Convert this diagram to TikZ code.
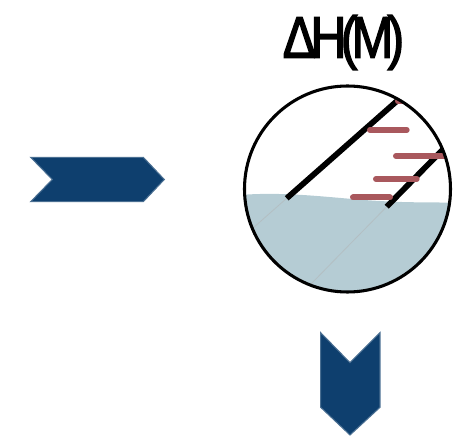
\documentclass[tikz,border=0pt]{standalone}
\usepackage{fontspec}
\setmainfont{Liberation Sans}
\usetikzlibrary{positioning}
\definecolor{chevblue}{HTML}{0E3F6E}
\definecolor{wetblue}{HTML}{B5CCD4}
\definecolor{tickred}{HTML}{A9585D}
\tikzset{
  chevron/.style={fill=chevblue, draw=chevblue!75!white, line width=0.8pt, line join=miter},
  wall/.style={line width=4.3pt, black},
  tick/.style={line width=4.5pt, tickred, line cap=round},
}
% heavier glyph strokes for the heading
\newcommand{\heavytext}[1]{\special{pdf:literal direct 2 Tr 1.1 w}#1\special{pdf:literal direct 0 Tr 0 w}}

\begin{document}
\begin{tikzpicture}[x=0.75pt,y=-0.75pt]
			\useasboundingbox (0,0) rectangle (462,438);
			% heading
			\node[anchor=base, inner sep=0pt, xscale=0.85] (dh) at (343.5,57.7)
				{\fontsize{44}{44}\selectfont\heavytext{Δ\kern-5ptH\kern-5pt(\kern-5ptM\kern-5pt)}};
			% arrows
			\fill[chevron] (30.7,157.3) -- (143.3,157.3) -- (164.3,179.5) -- (143.3,201.7) -- (30.7,201.7) -- (52.3,179.5) -- cycle;
			\fill[chevron] (320.7,332.7) -- (350,362.7) -- (380,332.7) -- (380,407.3) -- (350,435) -- (320.7,407.3) -- cycle;
			% the lens
			\coordinate (c) at (347.5,189);
			\begin{scope}
				\clip (c) circle (103);
				\fill[wetblue] (240,195) .. controls (290,191) and (340,199) .. (380,201) .. controls (410,203) and (440,202) .. (460,203) -- (460,300) -- (240,300) -- cycle;
				\draw[black!30, opacity=0.5, line width=0.6pt] (286.7,198.3) -- (220,257.2);
				\draw[black!30, opacity=0.5, line width=0.6pt] (386.7,206.7) -- (310,285);
				\draw[wall] (286.7,198.3) -- (410,89.5);
				\draw[wall] (386.7,206.7) -- (460,132);
				\draw[tick] (398,101.5) -- (410,101.5);
				\draw[tick] (370,130) -- (406.7,130);
				\draw[tick] (396,156) -- (445,156);
				\draw[tick] (376,179) -- (416.7,179);
				\draw[tick] (353,197.5) -- (390,197.5);
			\end{scope}
			\draw[line width=2.3pt] (c) circle (103);
		\end{tikzpicture}
\end{document}
